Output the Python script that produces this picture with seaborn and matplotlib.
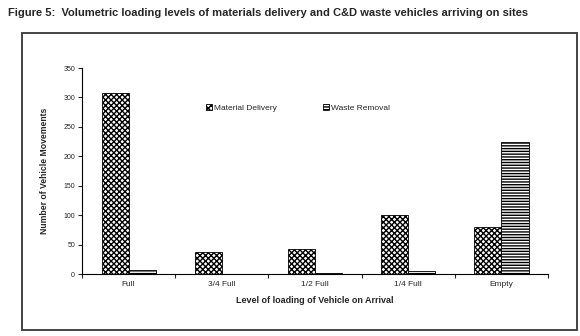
import matplotlib
matplotlib.use('Agg')
import matplotlib.pyplot as plt
import seaborn as sns
import pandas as pd
from matplotlib.patches import Rectangle, Patch

levels = ['Full', '3/4 Full', '1/2 Full', '1/4 Full', 'Empty']
material_delivery = [307, 37, 42, 100, 80]
waste_removal = [6, 0, 1, 5, 225]
series = ['Material Delivery', 'Waste Removal']

df = pd.DataFrame({
    'Level': levels * 2,
    'Count': material_delivery + waste_removal,
    'Type': [series[0]] * len(levels) + [series[1]] * len(levels),
})

sns.set_style('white')
plt.rcParams['font.family'] = ['Liberation Sans', 'DejaVu Sans']
plt.rcParams['hatch.linewidth'] = 1.0

fig = plt.figure(figsize=(5.8, 3.36), dpi=100)
ax = fig.add_axes([0.1414, 0.1845, 0.8036, 0.6131])

sns.barplot(
    data=df, x='Level', y='Count', hue='Type', order=levels,
    hue_order=series, palette=['white', 'white'], width=0.58,
    edgecolor='black', linewidth=0.6, ax=ax, legend=False,
)

hatches = ['xxxxxx', '------']
for cont, h in zip(ax.containers, hatches):
    for bar in cont:
        bar.set_hatch(h)

# legend built from the hatch styles
handles = [Patch(facecolor='white', edgecolor='black', hatch=h, linewidth=0.6)
           for h in hatches]
ax.legend(handles, series, loc='upper left', bbox_to_anchor=(0.25, 0.86),
          ncol=2, frameon=False, fontsize=6, handlelength=0.7,
          handleheight=0.7, handletextpad=0.3, columnspacing=5.5)

ax.set_ylim(0, 350)
ax.set_xlim(-0.5, 4.5)
ax.set_yticks(range(0, 351, 50))
ax.set_xticks(range(5))
ax.set_xticks([i - 0.5 for i in range(6)], minor=True)
ax.tick_params(axis='x', which='major', length=0, labelsize=6, pad=5)
ax.tick_params(axis='x', which='minor', length=3, width=0.8, direction='out',
               bottom=True)
ax.tick_params(axis='y', length=3, width=0.8, direction='out', labelsize=5,
               left=True, pad=2)
for s in ['top', 'right']:
    ax.spines[s].set_visible(False)
for s in ['left', 'bottom']:
    ax.spines[s].set_color('black')
    ax.spines[s].set_linewidth(0.8)

ax.set_xlabel('Level of loading of Vehicle on Arrival', fontsize=6.5,
              fontweight='bold', labelpad=6)
ax.set_ylabel('Number of Vehicle Movements', fontsize=6.2, fontweight='bold',
              labelpad=10)

fig.patches.append(Rectangle((22 / 580, 1 - 330 / 336), 555 / 580, 297 / 336,
                             transform=fig.transFigure, fill=False,
                             edgecolor='#444444', linewidth=1.4))

fig.text(8 / 580, 1 - 13 / 336,
         'Figure 5:  Volumetric loading levels of materials delivery and C&D waste vehicles arriving on sites',
         fontsize=8, fontweight='bold', va='center', ha='left')

fig.savefig('out.png', dpi=100)
